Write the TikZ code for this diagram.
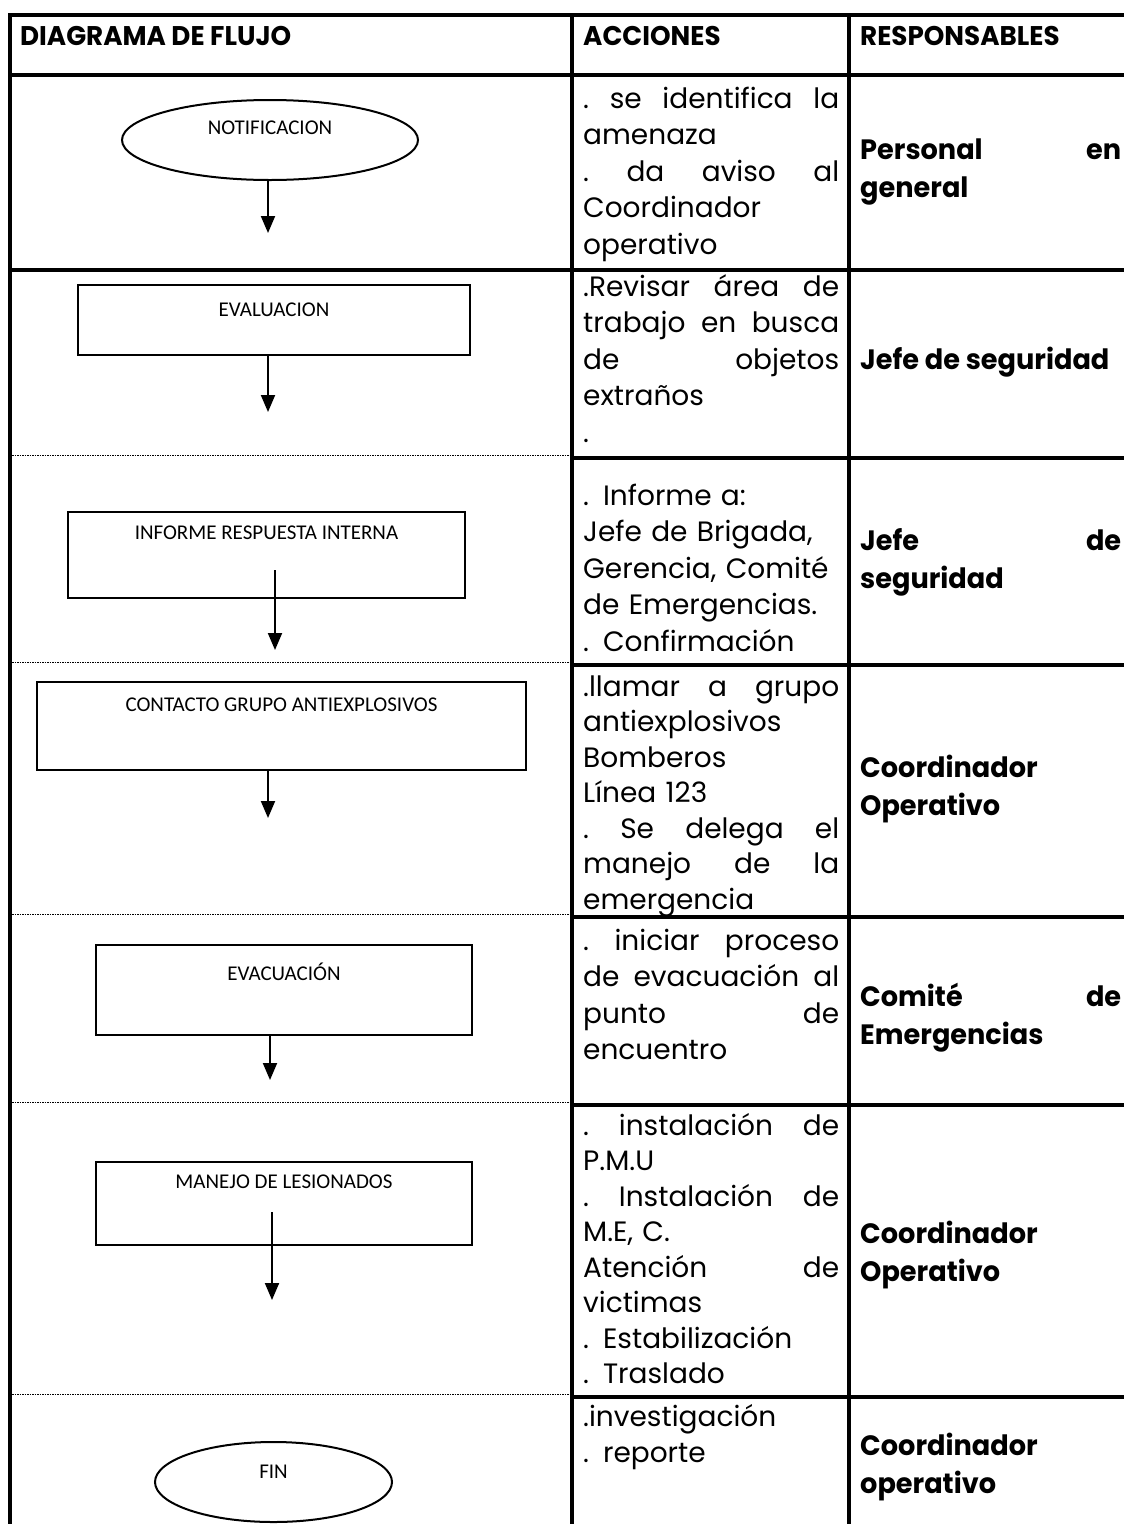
\documentclass[tikz,border=0pt]{standalone}
\usepackage{fontspec}
\setmainfont{Poppins}
\newfontfamily\respfont{Poppins}[FakeStretch=0.97]
\newfontfamily\labfont{Carlito}
\usetikzlibrary{shapes.geometric,arrows.meta}
\newcommand\jl[1]{\leavevmode\hbox to 256pt{\spaceskip=0.3em plus 1fil\xspaceskip=0.3em plus 1fil\relax #1}}
\newcommand\jr[1]{\leavevmode\hbox to 261pt{\spaceskip=0.3em plus 1fil\xspaceskip=0.3em plus 1fil\relax #1}}
\begin{document}
\begin{tikzpicture}[x=1pt,y=-1pt,
 grid/.style={line width=4pt},
 dotline/.style={line width=1pt, dash pattern=on 1.5pt off 1pt},
 shapebox/.style={draw, line width=2pt, inner sep=0pt},
 rectbox/.style={shapebox, rectangle},
 ovalbox/.style={shapebox, ellipse},
 lab/.style={font=\labfont\fontsize{21}{25}\selectfont, inner sep=0pt},
 arr/.style={line width=2pt, -{Triangle[width=14pt,length=17pt]}},
 acttext/.style={anchor=north west, inner sep=0pt, align=left, text width=256pt, font=\fontsize{28}{36.5}\selectfont},
 tightact/.style={acttext, font=\fontsize{28}{35.5}\selectfont},
 resptext/.style={anchor=west, inner sep=0pt, align=left, font=\respfont\bfseries\fontsize{28}{38}\selectfont},
 headtext/.style={anchor=west, inner sep=0pt, font=\respfont\bfseries\fontsize{27}{30}\selectfont},
]
\useasboundingbox (0,0) rectangle (1124,1524);
\fill[white] (0,0) rectangle (1124,1524);

% table lines
\draw[grid] (8,15) -- (1130,15);
\draw[grid] (10,13) -- (10,1530);
\draw[grid] (572,13) -- (572,1530);
\draw[grid] (849,13) -- (849,1530);
\draw[grid] (10,75) -- (1130,75);
\draw[grid] (10,270) -- (1130,270);
\draw[grid] (572,458) -- (1130,458);
\draw[grid] (572,665) -- (1130,665);
\draw[grid] (572,917) -- (1130,917);
\draw[grid] (572,1105) -- (1130,1105);
\draw[grid] (572,1397) -- (1130,1397);
\draw[dotline] (12,455) -- (570,455);
\draw[dotline] (12,662) -- (570,662);
\draw[dotline] (12,914) -- (570,914);
\draw[dotline] (12,1102) -- (570,1102);
\draw[dotline] (12,1394) -- (570,1394);

% headers
\node[headtext] (h1) at (20,36) {DIAGRAMA DE FLUJO};
\node[headtext] (h2) at (583,36) {ACCIONES};
\node[headtext] (h3) at (860,36) {RESPONSABLES};

% flow shapes
\node[ovalbox, minimum width=296pt, minimum height=80pt] (n1) at (270,140) {};
\node[lab] (t1) at (270,128) {NOTIFICACION};
\node[rectbox, minimum width=392pt, minimum height=70pt] (n2) at (274,320) {};
\node[lab] (t2) at (274,310) {EVALUACION};
\node[rectbox, minimum width=397pt, minimum height=86pt] (n3) at (266.5,555) {};
\node[lab] (t3) at (266.5,533) {INFORME RESPUESTA INTERNA};
\node[rectbox, minimum width=489pt, minimum height=88pt] (n4) at (281.5,726) {};
\node[lab] (t4) at (281.5,705) {CONTACTO GRUPO ANTIEXPLOSIVOS};
\node[rectbox, minimum width=376pt, minimum height=90pt] (n5) at (284,990) {};
\node[lab] (t5) at (284,972) {EVACUACIÓN};
\node[rectbox, minimum width=376pt, minimum height=83pt] (n6) at (284,1203.5) {};
\node[lab] (t6) at (284,1182) {MANEJO DE LESIONADOS};
\node[ovalbox, minimum width=237pt, minimum height=80pt] (n7) at (273.5,1482) {};
\node[lab] (t7) at (273.5,1472) {FIN};

% arrows
\coordinate (a1) at (268,233);
\coordinate (a2) at (268,412);
\coordinate (s3) at (275,570);
\coordinate (a3) at (275,650);
\coordinate (a4) at (268,818);
\coordinate (a5) at (270,1080);
\coordinate (s6) at (272,1212);
\coordinate (a6) at (272,1300);
\draw[arr] (n1.south -| a1) -- (a1);
\draw[arr] (n2.south -| a2) -- (a2);
\draw[arr] (s3) -- (a3);
\draw[arr] (n4.south -| a4) -- (a4);
\draw[arr] (n5.south -| a5) -- (a5);
\draw[arr] (s6) -- (a6);

% actions
\node[acttext] (c1) at (583,82.5) {\strut\jl{. se identifica la}\\amenaza\\\jl{. da aviso al}\\Coordinador\\operativo};
\node[acttext] (c2) at (583,270.5) {\strut\jl{.Revisar área de}\\\jl{trabajo en busca}\\\jl{de objetos}\\extraños\\.};
\node[acttext] (c3) at (583,479.5) {\strut . Informe a:\\Jefe de Brigada,\\Gerencia, Comité\\de Emergencias.\\. Confirmación};
\node[tightact] (c4) at (583,671) {\strut\jl{.llamar a grupo}\\antiexplosivos\\Bomberos\\Línea 123\\\jl{. Se delega el}\\\jl{manejo de la}\\emergencia};
\node[acttext] (c5) at (583,924.5) {\strut\jl{. iniciar proceso}\\\jl{de evacuación al}\\\jl{punto de}\\encuentro};
\node[tightact] (c6) at (583,1110) {\strut\jl{. instalación de}\\P.M.U\\\jl{. Instalación de}\\M.E, C.\\\jl{Atención de}\\victimas\\. Estabilización\\. Traslado};
\node[acttext] (c7) at (583,1400.5) {\strut .investigación\\. reporte};

% responsables
\node[resptext] (r1) at (860,172) {\jr{Personal en}\\general};
\node[resptext] (r2) at (860,362) {Jefe de seguridad};
\node[resptext] (r3) at (860,562) {\jr{Jefe de}\\seguridad};
\node[resptext] (r4) at (860,789) {Coordinador\\Operativo};
\node[resptext] (r5) at (860,1018) {\jr{Comité de}\\Emergencias};
\node[resptext] (r6) at (860,1255) {Coordinador\\Operativo};
\node[resptext] (r7) at (860,1467) {Coordinador\\operativo};
\end{tikzpicture}
\end{document}
